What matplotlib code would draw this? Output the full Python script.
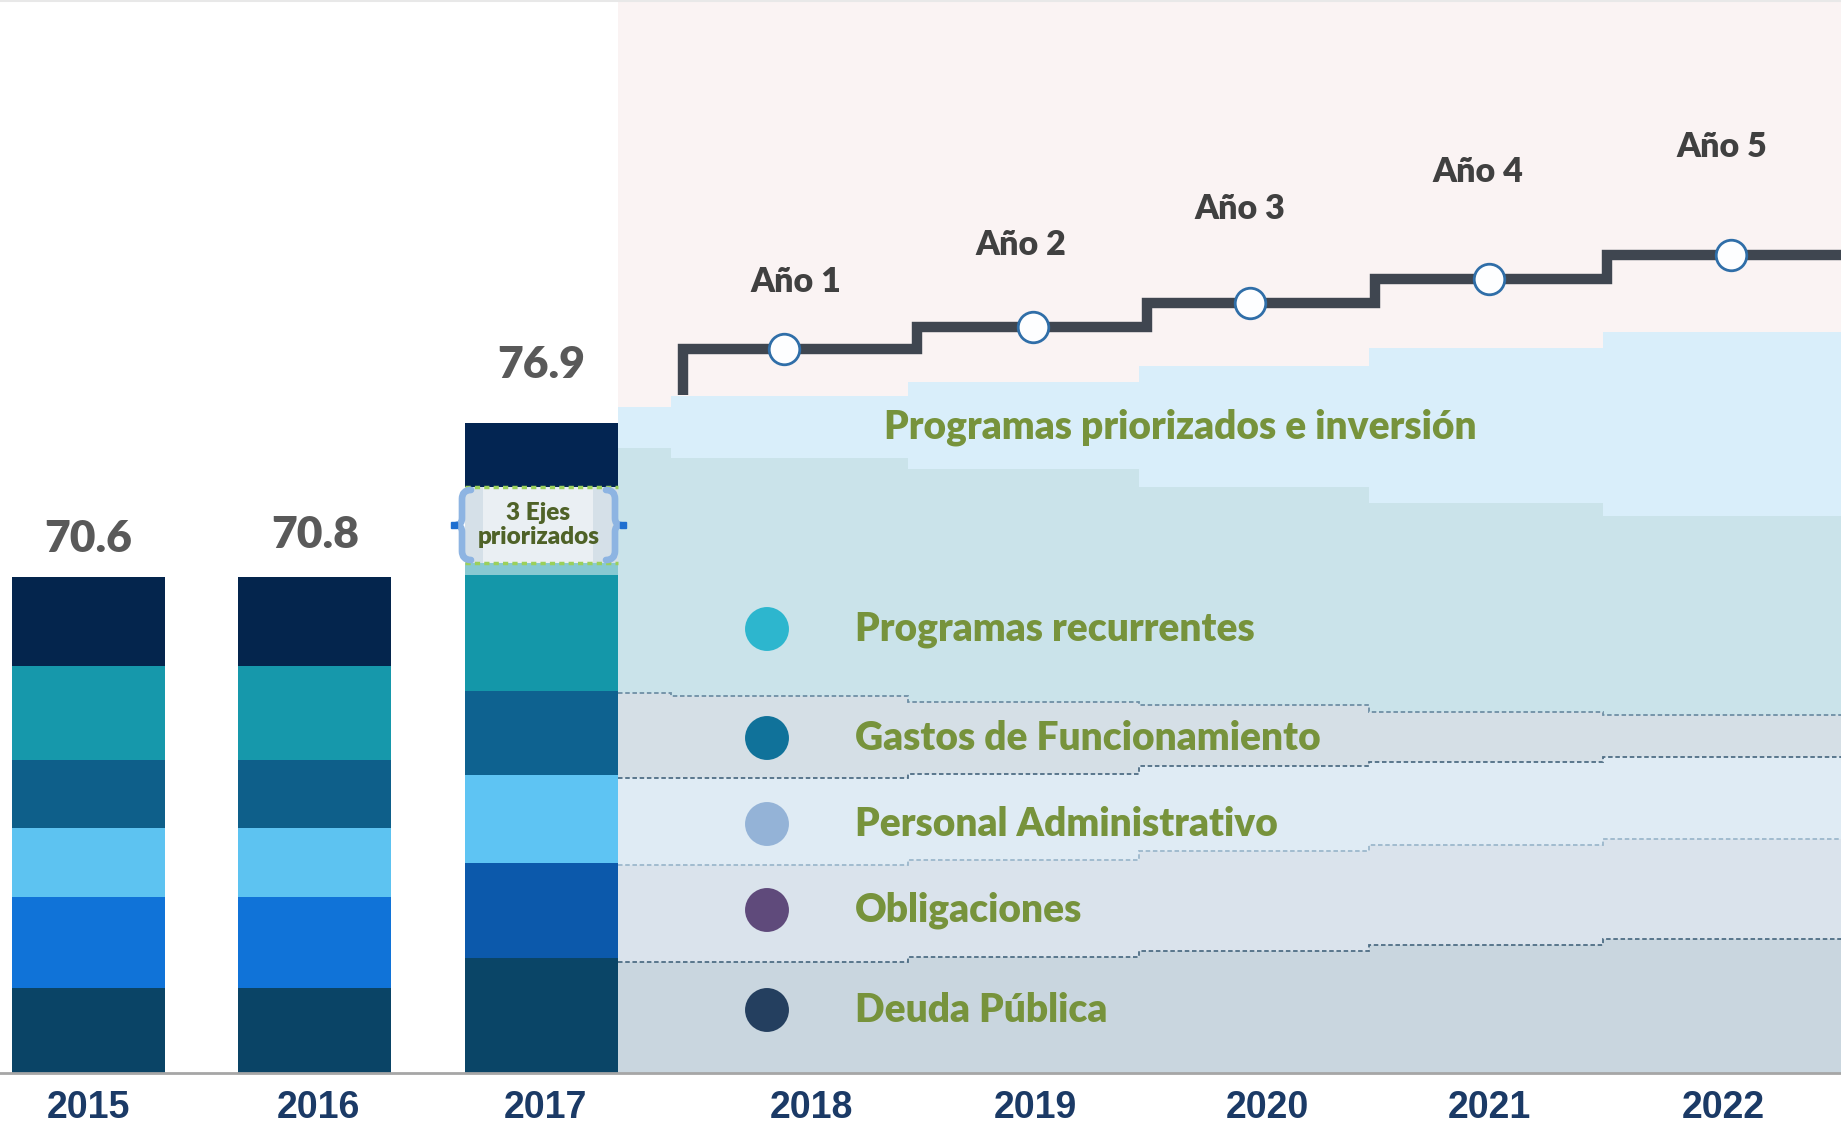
import matplotlib
matplotlib.use("Agg")
import matplotlib.pyplot as plt
import numpy as np
from matplotlib.patches import Rectangle, PathPatch
from matplotlib.path import Path

# ---------------- data ----------------
years = ["2015", "2016", "2017", "2018", "2019", "2020", "2021", "2022"]
hist_totals = ["70.6", "70.8", "76.9"]

# historical stacked bars, bottom -> top (relative heights)
hist_deuda = [8.5, 8.5, 11.5]
hist_obligaciones = [9.1, 9.1, 9.5]
hist_personal = [6.9, 6.9, 8.8]
hist_gastos = [6.8, 6.8, 8.4]
hist_recurrentes = [9.4, 9.4, 11.6]
hist_transicion = [0.0, 0.0, 1.2]
hist_ejes = [0.0, 0.0, 7.6]
hist_superior = [8.9, 8.9, 6.4]

# projected bands: transition column + 2018..2022
proj_deuda = [11.1, 11.1, 11.6, 12.2, 12.8, 13.4]
proj_obligaciones = [9.7, 9.7, 9.7, 10.0, 10.0, 10.0]
proj_personal = [8.7, 8.7, 8.6, 8.5, 8.3, 8.2]
proj_gastos = [8.5, 8.2, 7.2, 6.1, 5.0, 4.2]
proj_recurrentes = [24.5, 23.8, 23.3, 21.8, 20.9, 19.9]
proj_priorizados = [4.1, 6.2, 8.7, 12.1, 15.5, 18.4]

plan_labels = ["Año 1", "Año 2", "Año 3", "Año 4", "Año 5"]
plan_start = 67.8
plan_levels = [72.4, 74.6, 77.0, 79.4, 81.8]

legend_labels = ["Programas recurrentes", "Gastos de Funcionamiento",
                 "Personal Administrativo", "Obligaciones", "Deuda Pública"]
legend_colors = ["#2DB6CE", "#10729A", "#94B3D7", "#5F4A7B", "#243F5F"]
band_title = "Programas priorizados e inversión"
ejes_label = "3 Ejes\npriorizados"

# ---------------- layout ----------------
W, H, DPI = 1841, 1130, 100
BASE_PX = 1073
fig = plt.figure(figsize=(W / DPI, H / DPI), dpi=DPI)
ax = fig.add_axes([0, (H - BASE_PX) / H, 1, BASE_PX / H])
ax.set_xlim(0, W)
ax.set_ylim(0, BASE_PX / 10)

bar_x = [88.5, 315, 541.5]
bar_w = 153
tick_x = [88.5, 318, 545, 811, 1035, 1267, 1489, 1723]
band_edges = [618, 671, 908, 1139, 1369, 1603, 1841]
line_edges = [683, 917, 1147, 1375, 1607, 1841]
circle_x = [784, 1033, 1250, 1489, 1731]
ano_x = [796, 1021, 1240, 1478, 1722]
ano_y = [79.1, 82.8, 86.4, 90.1, 92.6]
total_offsets = [3.8, 4.2, 5.8]
legend_x, legend_text_x = 767, 855
legend_y = [44.4, 33.5, 24.9, 16.3, 6.3]

GREEN = "#77933C"
SANS = ["Lato", "DejaVu Sans"]
WEIGHT = "heavy"

# background (projection zone)
ax.axvspan(band_edges[0], band_edges[-1], color="#FAF3F3", lw=0, zorder=0)
ax.axhline(BASE_PX / 10 - 0.1, color="#E8E8E8", lw=1.5, zorder=0)

# projected bands
proj_layers = [(proj_deuda, "#C9D6DF"), (proj_obligaciones, "#DAE3EC"),
               (proj_personal, "#DFEBF4"), (proj_gastos, "#D5DFE6"),
               (proj_recurrentes, "#CAE3EA"), (proj_priorizados, "#D9EEFA")]
cum = np.zeros(len(proj_deuda))
tops = []
for vals, col in proj_layers:
    top = cum + np.array(vals)
    ax.fill_between(band_edges, np.append(cum, cum[-1]), np.append(top, top[-1]),
                    step="post", color=col, lw=0, zorder=1)
    tops.append(top.copy())
    cum = top

line_cols = ["#4F6E85", "#9CB8CC", "#4F6E85", "#6F8FA5"]
for top, lc in zip(tops[:4], line_cols):
    ax.stairs(top, band_edges, baseline=None, color=lc, lw=1.3,
              linestyle=(0, (2.5, 1.5)), zorder=1.5)

# historical stacked bars
hist_layers = [
    (hist_deuda, ["#0A4466", "#0A4466", "#0A4567"]),
    (hist_obligaciones, ["#1073D8", "#1073D8", "#0C59AB"]),
    (hist_personal, ["#5DC3F1", "#5DC3F1", "#5EC4F3"]),
    (hist_gastos, ["#0E5F8A", "#0E5F8A", "#0E6290"]),
    (hist_recurrentes, ["#1698AB", "#1698AB", "#1497A9"]),
    (hist_transicion, ["#88C9D2"] * 3),
    (hist_ejes, ["#D5E0E8"] * 3),
    (hist_superior, ["#04254D", "#04254D", "#032552"]),
]
bottom = np.zeros(3)
for vals, cols in hist_layers:
    ax.bar(bar_x, vals, bottom=bottom, width=bar_w, color=cols, lw=0, zorder=2)
    bottom = bottom + np.array(vals)

for x, lab, tot, off in zip(bar_x, hist_totals, bottom, total_offsets):
    ax.text(x, tot + off, lab, ha="center", va="center", fontsize=32,
            fontweight=WEIGHT, color="#595959", family=SANS)

# "3 Ejes priorizados" bracket on the 2017 bar
b17 = 2
ej_lo = sum(l[0][b17] for l in hist_layers[:6])
ej_hi = ej_lo + hist_ejes[b17]
ej_mid = (ej_lo + ej_hi) / 2
ax.add_patch(Rectangle((483, ej_lo), 110, ej_hi - ej_lo, facecolor="#F2F5F8",
                       alpha=0.75, lw=0, zorder=3))
ax.hlines([ej_lo, ej_hi], bar_x[b17] - bar_w / 2, bar_x[b17] + bar_w / 2,
          colors="#9BD05A", linestyles=(0, (1.5, 1.2)), lw=2.5, zorder=4)
ax.text(bar_x[b17] - 3, ej_mid, ejes_label, ha="center", va="center",
        fontsize=17.5, fontweight=WEIGHT, color="#4F6228", family=SANS,
        linespacing=1.15, zorder=5)


def brace(xs, xt, y0, y1, side):
    # xs: spine x, xt: end x of the arms, side: -1 tip to left, +1 to right
    ym = (y0 + y1) / 2
    tip = xs + side * 6
    verts = [(xt, y1), (xs, y1), (xs, y1 - 0.9),
             (xs, ym + 0.7), (xs, ym), (tip, ym),
             (xs, ym), (xs, ym - 0.7),
             (xs, y0 + 0.9), (xs, y0), (xt, y0)]
    codes = [Path.MOVETO, Path.CURVE3, Path.CURVE3,
             Path.LINETO, Path.CURVE3, Path.CURVE3,
             Path.CURVE3, Path.CURVE3,
             Path.LINETO, Path.CURVE3, Path.CURVE3]
    ax.add_patch(PathPatch(Path(verts, codes), facecolor="none", edgecolor="#8DB4E2",
                           lw=4.8, capstyle="round", joinstyle="round", zorder=5))
    ax.plot([tip + side * 2], [ym], marker="s", ms=5, color="#1F6FD0", zorder=6)


brace(462, 471, ej_lo + 0.3, ej_hi - 0.3, -1)
brace(615, 606, ej_lo + 0.3, ej_hi - 0.3, +1)

# plan step line with markers
lx = [line_edges[0]] + line_edges
ly = [plan_start] + plan_levels + [plan_levels[-1]]
ax.plot(lx, ly, drawstyle="steps-post", color="#3F4650", lw=7.5,
        solid_joinstyle="miter", solid_capstyle="butt", zorder=4)
ax.plot(circle_x, plan_levels, "o", ms=22, mfc="#FDFEFF", mec="#2F6EA8",
        mew=2, ls="none", zorder=5)
for x, y, lab in zip(ano_x, ano_y, plan_labels):
    ax.text(x, y, lab, ha="center", va="center", fontsize=24.5,
            fontweight=WEIGHT, color="#404040", family=SANS)

# band title and legend
ax.text(884, 64.6, band_title, ha="left", va="center", fontsize=28,
        fontweight=WEIGHT, color=GREEN, family=SANS, zorder=5)
ax.scatter([legend_x] * len(legend_y), legend_y, s=1000, c=legend_colors,
           lw=0, zorder=5)
for y, lab in zip(legend_y, legend_labels):
    ax.text(legend_text_x, y, lab, ha="left", va="center", fontsize=28,
            fontweight=WEIGHT, color=GREEN, family=SANS, zorder=5)

# axes styling
ax.set_xticks(tick_x)
ax.set_xticklabels(years, fontsize=27, fontweight="bold", color="#1B3A66",
                   family=["Liberation Sans", "DejaVu Sans"])
ax.tick_params(axis="x", length=0, pad=12)
ax.set_yticks([])
for s in ["left", "right", "top"]:
    ax.spines[s].set_visible(False)
ax.spines["bottom"].set_color("#A6A6A6")
ax.spines["bottom"].set_linewidth(2)

fig.savefig("out.png", dpi=DPI)
